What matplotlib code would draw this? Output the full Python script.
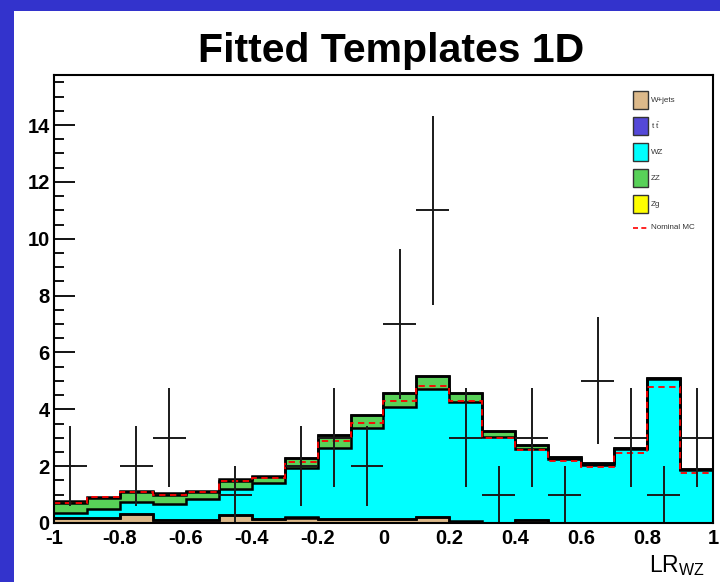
import numpy as np
import matplotlib.pyplot as plt
from matplotlib.patches import Rectangle
from matplotlib.lines import Line2D

plt.rcParams['font.family'] = ['Liberation Sans', 'DejaVu Sans']
plt.rcParams['mathtext.fontset'] = 'custom'
plt.rcParams['mathtext.rm'] = 'Liberation Sans'
plt.rcParams['mathtext.it'] = 'Liberation Sans:italic'

# -----------------------------
# DATA (20 bins of LR_WZ)
# -----------------------------
bin_edges = np.linspace(-1, 1, 21)

wjets = [0.19, 0.19, 0.31, 0.10, 0.10, 0.28, 0.13, 0.18, 0.14, 0.14,
         0.14, 0.20, 0.00, 0.00, 0.10, 0.00, 0.00, 0.00, 0.00, 0.00]
ttbar = [0.00, 0.00, 0.00, 0.00, 0.00, 0.00, 0.02, 0.02, 0.00, 0.00,
         0.00, 0.00, 0.08, 0.00, 0.00, 0.00, 0.00, 0.00, 0.00, 0.00]
wz = [0.17, 0.30, 0.44, 0.56, 0.74, 0.92, 1.27, 1.75, 2.49, 3.19,
      3.95, 4.51, 4.16, 3.04, 2.49, 2.24, 2.03, 2.59, 5.06, 1.88]
zz = [0.36, 0.39, 0.34, 0.32, 0.25, 0.28, 0.21, 0.32, 0.45, 0.47,
      0.49, 0.47, 0.33, 0.21, 0.15, 0.09, 0.07, 0.04, 0.03, 0.02]
zg = [0.04, 0.05, 0.05, 0.06, 0.03, 0.07, 0.03, 0.00, 0.00, 0.00,
      0.00, 0.00, 0.00, 0.00, 0.00, 0.00, 0.00, 0.00, 0.00, 0.00]

nominal_mc = [0.72, 0.90, 1.10, 1.00, 1.08, 1.47, 1.57, 2.13, 2.90, 3.53,
              4.29, 4.83, 4.29, 3.00, 2.57, 2.19, 1.96, 2.45, 4.80, 1.75]

data_counts = [2, 0, 2, 3, 0, 1, 0, 2, 3, 2,
               7, 11, 3, 1, 3, 1, 5, 3, 1, 3]

components = [
    ("W+jets", wjets, "#dcb98a"),
    (r"$\mathrm{t\ \bar{t}}$", ttbar, "#5448d8"),
    ("WZ", wz, "#00ffff"),
    ("ZZ", zz, "#58d158"),
    ("Zg", zg, "#ffff00"),
]


def draw_stack(ax):
    # cumulative sums, drawn from the top down like a THStack
    cums = np.cumsum([np.array(c[1]) for c in components], axis=0)
    for (name, _, color), cum in reversed(list(zip(components, cums))):
        ax.stairs(cum, bin_edges, baseline=0, fill=True, facecolor=color,
                  edgecolor="none", zorder=2)
        ax.stairs(cum, bin_edges, baseline=None, color="black",
                  linewidth=1.8, zorder=3)


def draw_data(ax):
    centers = 0.5 * (bin_edges[:-1] + bin_edges[1:])
    half = 0.5 * np.diff(bin_edges)
    counts = np.array(data_counts, dtype=float)
    keep = counts > 0
    ax.errorbar(centers[keep], counts[keep], xerr=half[keep],
                yerr=np.sqrt(counts[keep]), fmt="none", ecolor="#1a1a1a",
                elinewidth=1.4, capsize=0, zorder=5)


def draw_legend(fig):
    x0 = 633 / 720
    w = 15 / 720
    h = 18 / 582
    for i, (name, _, color) in enumerate(components):
        yc = 1 - (100 + 26 * i) / 582
        fig.patches.append(Rectangle((x0, yc - h / 2), w, h,
                                     transform=fig.transFigure,
                                     facecolor=color, edgecolor="#333333",
                                     linewidth=1.0, zorder=10))
        fig.text(x0 + w + 3 / 720, yc, name, fontsize=5.8, va="center",
                 ha="left", color="#333333", zorder=10)
    yc = 1 - 228 / 582
    fig.add_artist(Line2D([x0, x0 + w], [yc, yc], color="red",
                          linestyle=(0, (3, 2)), linewidth=1.2,
                          transform=fig.transFigure, zorder=10))
    fig.text(x0 + w + 3 / 720, yc, "Nominal MC", fontsize=5.8, va="center",
             ha="left", color="#333333", zorder=10)


def main():
    fig = plt.figure(figsize=(7.2, 5.82), dpi=100, facecolor="#3333cc")
    # white canvas sitting on the blue slide
    fig.patches.append(Rectangle((14 / 720, 0), 1, 1 - 11 / 582,
                                 transform=fig.transFigure,
                                 facecolor="white", edgecolor="none",
                                 zorder=-10))

    ax = fig.add_axes([54 / 720, 59 / 582, 659 / 720, 448 / 582])
    ax.set_facecolor("white")
    ax.set_zorder(1)

    draw_stack(ax)
    ax.stairs(nominal_mc, bin_edges, baseline=None, color="red",
              linestyle=(0, (3.5, 2.5)), linewidth=1.3, zorder=4)
    draw_data(ax)

    ax.set_xlim(-1, 1)
    ax.set_ylim(0, 15.76)

    ax.set_xticks(np.arange(-1, 1.01, 0.2))
    ax.set_xticks(np.arange(-1, 1.01, 0.05), minor=True)
    ax.set_yticks(np.arange(0, 15, 2))
    ax.set_yticks(np.arange(0, 15.76, 0.5), minor=True)
    ax.set_xticklabels(["-1", "-0.8", "-0.6", "-0.4", "-0.2", "0",
                        "0.2", "0.4", "0.6", "0.8", "1"])

    ax.tick_params(axis="x", which="major", direction="in", length=10,
                   width=1.3, labelsize=14.5, pad=4.5, top=False)
    ax.tick_params(axis="x", which="minor", direction="in", length=5,
                   width=1.3, top=False)
    ax.tick_params(axis="y", which="major", direction="in", length=15,
                   width=1.3, labelsize=14.5, pad=3, right=False)
    ax.tick_params(axis="y", which="minor", direction="in", length=7.5,
                   width=1.3, right=False)
    for lab in ax.get_xticklabels() + ax.get_yticklabels():
        lab.set_fontweight("bold")

    for spine in ax.spines.values():
        spine.set_linewidth(1.5)
        spine.set_zorder(6)

    fig.text(391 / 720, 1 - 62 / 582, "Fitted Templates 1D", fontsize=29.5,
             fontweight="bold", ha="center", va="baseline")
    fig.text(705 / 720, 1 - 572 / 582, r"LR$_{\mathrm{WZ}}$", fontsize=16.5,
             ha="right", va="baseline")

    draw_legend(fig)

    fig.savefig("out.png", dpi=100, facecolor=fig.get_facecolor())


if __name__ == "__main__":
    main()
